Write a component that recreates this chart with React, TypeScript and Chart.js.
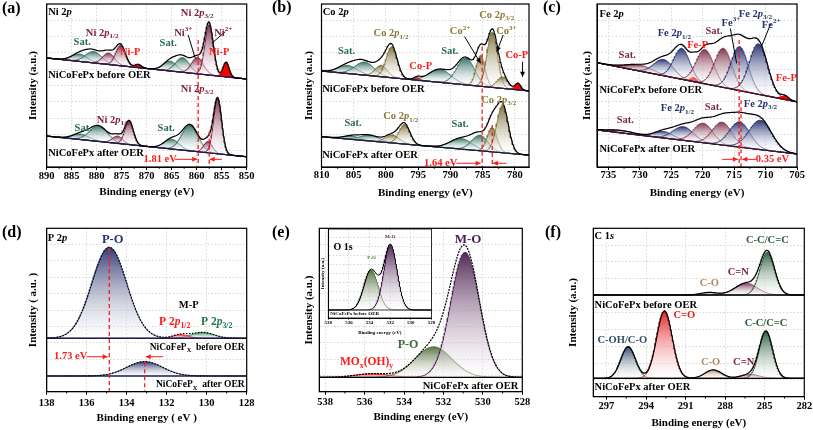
import React, { useEffect, useRef } from 'react';
import { Chart, registerables } from 'chart.js';

Chart.register(...registerables);

const FONT = "'Liberation Serif', 'Times New Roman', serif";
Chart.defaults.font.family = FONT;

type Peak = [number, number, number, string]; // centre (eV), height above background, FWHM (eV), component key
type Label = [string, number, number, string, string?, number?];
type Arrow = [number, number, number, number, string, number];
type Dash = [number, number, number];

const RED = '#ff1a1a';
const GRID_Y = [0, 10, 20, 30, 40, 50, 60, 70, 80, 90, 100];

// ---------------- (a) Ni 2p ----------------
const niTicks = [850, 855, 860, 865, 870, 875, 880, 885, 890];
const niBeforeBase: [number, number] = [54.0, 66.9];
const niBeforePeaks: Peak[] = [
  [854.1, 9, 1.4, 'r'], [857.5, 31, 2.0, 'm'], [859.8, 10, 2.8, 'm'], [862.8, 9, 3.2, 's'], [865.3, 6, 3.2, 's'],
  [871.7, 2, 1.5, 'r'], [875.2, 12.5, 2.3, 'm'], [877.6, 7, 2.8, 'm'], [880.6, 7, 3.8, 's'], [883.4, 4.5, 3.8, 's'],
];
const niAfterBase: [number, number] = [6.3, 19.0];
const niAfterPeaks: Peak[] = [
  [855.8, 34, 1.9, 'm'], [857.7, 7, 2.0, 'm'], [861.3, 16, 3.8, 's'], [865.0, 6, 3.5, 's'],
  [873.5, 14.5, 2.0, 'm'], [875.8, 4.5, 2.4, 'm'], [879.6, 9.5, 4.2, 's'], [883.2, 3.4, 3.8, 's'],
];
const NI_M = '#7b1f40';
const TEAL = '#2b6a5c';
const niLabels: Label[] = [
  ['Ni 2~p~', 889.7, 95.1, '#000', 'left'],
  ['Sat.', 882.9, 76.7, TEAL], ['Ni 2~p~_{1/2}', 878.9, 82.2, NI_M], ['Ni-P', 873.3, 70.6, RED],
  ['Sat.', 865.7, 76.1, TEAL], ['Ni^{3+}', 862.7, 82.2, NI_M], ['Ni 2~p~_{3/2}', 859.9, 94.5, NI_M],
  ['Ni^{2+}', 854.7, 82.2, NI_M], ['Ni-P', 855.5, 70.6, RED],
  ['NiCoFePx before OER', 889.7, 56.4, '#000', 'left'],
  ['Sat.', 882.7, 23.9, TEAL], ['Ni 2~p~_{1/2}', 876.7, 28.8, NI_M], ['Sat.', 866.1, 23.9, TEAL],
  ['Ni 2~p~_{3/2}', 859.9, 47.9, NI_M],
  ['NiCoFePx after OER', 889.7, 8.6, '#000', 'left'],
  ['1.81 eV', 867.3, 4.7, RED],
];
const niArrows: Arrow[] = [
  [864.3, 4.7, 859.9, 4.7, RED, 1], [855.0, 4.7, 857.4, 4.7, RED, 1],
  [861.7, 81, 860.3, 66.7, '#000', 0], [854.3, 83, 857.0, 75.9, '#000', 0],
];
const niDashes: Dash[] = [[859.7, 77.9, 0], [857.5, 21.7, 0]];

// ---------------- (b) Co 2p ----------------
const coTicks = [780, 785, 790, 795, 800, 805, 810];
const coBeforeBase: [number, number] = [46.7, 58.9];
const coBeforePeaks: Peak[] = [
  [779.5, 4, 1.0, 'r'], [781.9, 7, 2.0, 'o'], [783.5, 34, 1.9, 'o'], [785.3, 19, 1.6, 'o'],
  [787.6, 16.5, 3.2, 's'], [791.6, 8, 4.0, 's'], [795.1, 1.5, 1.2, 'r'], [799.1, 19, 2.0, 'o'],
  [800.7, 7, 2.2, 'o'], [803.3, 8, 3.5, 's'], [805.9, 5, 3.5, 's'],
];
const coAfterBase: [number, number] = [7.3, 18.6];
const coAfterPeaks: Peak[] = [
  [781.9, 29, 2.1, 'o'], [783.5, 15, 1.8, 'o'], [785.4, 9.5, 3.0, 's'], [788.3, 6.5, 4.0, 's'],
  [797.1, 12, 2.0, 'o'], [799.0, 5, 2.5, 'o'], [802.5, 3.5, 3.5, 's'], [805.3, 2, 3.0, 's'],
];
const OLIVE = '#8a7a3a';
const coLabels: Label[] = [
  ['Co 2~p~', 809.8, 94.7, '#000', 'left'],
  ['Sat.', 806.1, 70.7, TEAL], ['Co 2~p~_{1/2}', 799.2, 82, OLIVE], ['Co-P', 794.6, 61.5, RED],
  ['Sat.', 790.1, 70.7, TEAL], ['Co^{2+}', 788.5, 83, OLIVE], ['Co 2~p~_{3/2}', 782.8, 93.3, OLIVE],
  ['Co^{3+}', 781.3, 83, OLIVE], ['Co-P', 779.7, 68.7, RED],
  ['NiCoFePx before OER', 809.9, 47.7, '#000', 'left'],
  ['Sat.', 805.1, 26.8, TEAL], ['Co 2~p~_{1/2}', 797.7, 30.9, OLIVE], ['Sat.', 788.5, 26.4, TEAL],
  ['Co 2~p~_{3/2}', 782.5, 41.1, OLIVE],
  ['NiCoFePx after OER', 809.9, 6.9, '#000', 'left'],
  ['1.64 eV', 791.5, 2.3, RED],
];
const coArrows: Arrow[] = [
  [789.05, 2.3, 785.3, 2.3, RED, 1], [781.3, 2.3, 783.4, 2.3, RED, 1],
  [787.8, 80, 785.3, 63.6, '#000', 1], [781.8, 81, 782.8, 70.7, '#000', 1],
  [778.8, 64.6, 778.8, 55.4, '#000', 1],
];
const coDashes: Dash[] = [[785.07, 73.8, 0], [783.5, 25.8, 0]];

// ---------------- (c) Fe 2p ----------------
const feTicks = [705, 710, 715, 720, 725, 730, 735];
const feBeforeBase: [number, number] = [40, 64];
const feBeforePeaks: Peak[] = [
  [706.9, 2.2, 1.4, 'r'], [711.1, 31, 3.4, 'n'], [714.1, 27, 3.2, 'n'], [716.7, 24, 3.2, 'w'],
  [719.6, 21, 3.3, 'w'], [721.4, 2.6, 1.2, 'r'], [723.3, 19, 3.0, 'n'], [726.2, 10, 3.6, 'n'],
  [730.0, 3.7, 5.0, 'w'],
];
const feAfterBase: [number, number] = [8, 22.7];
const feAfterPeaks: Peak[] = [
  [710.8, 18, 4.2, 'n'], [714.1, 15.5, 3.8, 'n'], [716.9, 14, 3.6, 'w'], [719.9, 12, 3.6, 'w'],
  [723.05, 8.4, 3.8, 'n'], [726.2, 4, 3.5, 'n'], [733.0, 1.5, 5, 'w'],
];
const FE_N = '#27326e';
const FE_W = '#7a2b47';
const feLabels: Label[] = [
  ['Fe 2~p~', 736.4, 93.9, '#000', 'left'],
  ['Fe 2~p~_{1/2}', 724.5, 82, FE_N], ['Fe-P', 720.8, 74.8, RED], ['Sat.', 732, 68.7, FE_W],
  ['Sat.', 718.2, 83, FE_W], ['Fe^{3+}', 715.5, 88.1, FE_N], ['Fe 2~p~_{3/2}', 711.6, 93.9, FE_N],
  ['Fe^{2+}', 709.1, 87.1, FE_N], ['Fe-P', 706.7, 54.4, RED],
  ['NiCoFePx before OER', 736.4, 46.8, '#000', 'left'],
  ['Sat.', 732.3, 28.8, FE_W], ['Fe 2~p~_{1/2}', 724, 36, FE_N], ['Sat.', 718.3, 36.6, FE_W],
  ['Fe 2~p~_{3/2}', 710.8, 38.7, FE_N],
  ['NiCoFePx after OER', 736.4, 11, '#000', 'left'],
  ['0.35 eV', 708.9, 4.7, RED],
];
const feArrows: Arrow[] = [
  [716.9, 4.7, 714.4, 4.7, RED, 1], [711.4, 4.7, 713.7, 4.7, RED, 1],
  [715.6, 85, 714.6, 63.6, '#000', 0], [709.2, 87.7, 710.6, 74.4, '#000', 0],
];
const feDashes: Dash[] = [[714.2, 77.9, 0], [713.9, 41, 0]];

// ---------------- (d) P 2p ----------------
const pTicks = [128, 130, 132, 134, 136, 138];
const pBeforeBase: [number, number] = [32.7, 32.7];
const pBeforePeaks: Peak[] = [[134.87, 55.7, 2.05, 'n'], [131.3, 2.2, 0.9, 'r'], [130.2, 3.6, 1.3, 'g']];
const pAfterBase: [number, number] = [9.6, 9.6];
const pAfterPeaks: Peak[] = [[133.1, 8.8, 2.1, 'n']];
const pLabels: Label[] = [
  ['P 2~p~', 137.95, 93.9, '#000', 'left'],
  ['P-O', 134.7, 92.8, '#28306c', 'center', 12.5],
  ['M-P', 130.9, 53, '#000'],
  ['P 2~p~_{1/2}', 131.6, 42.7, RED, 'center', 11.5],
  ['P 2~p~_{3/2}', 129.5, 42.7, '#1d7a4c', 'center', 11.5],
  ['NiCoFeP_{X}  before OER', 128.1, 26.9, '#000', 'right', 9.5],
  ['NiCoFeP_{X}  after OER', 128.1, 4.1, '#000', 'right', 9.5],
  ['1.73 eV', 136.8, 21.4, RED],
];
const pArrows: Arrow[] = [[136.0, 21.4, 134.95, 21.4, RED, 1], [132.17, 21.4, 133.05, 21.4, RED, 1]];
const pDashes: Dash[] = [[134.87, 88, 0], [133.1, 18, 0]];

// ---------------- (e) O 1s ----------------
const oTicks = [528, 530, 532, 534, 536, 538];
const oAfterBase: [number, number] = [8.8, 8.8];
const oAfterPeaks: Peak[] = [[530.9, 76.5, 1.7, 'p'], [532.5, 18.7, 2.2, 'g'], [535.6, 2.2, 2.0, 'r']];
const oLabels: Label[] = [
  ['M-O', 530.75, 92.8, '#4a1d4e', 'center', 13],
  ['P-O', 533.8, 28.6, '#3f6a3a', 'center', 12],
  ['MO_{x}(OH)_{y}', 535.9, 18.2, RED, 'center', 11.5],
  ['NiCoFePx after OER', 528.2, 3.1, '#000', 'right'],
];
// inset (before OER)
const oInsetTicks = [528, 530, 532, 534, 536, 538];
const oBeforeBase: [number, number] = [9, 9];
const oBeforePeaks: Peak[] = [[531.97, 73, 1.5, 'p'], [533.86, 45, 1.6, 'g']];
const oInsetLabels: Label[] = [
  ['O 1s', 537.5, 79.8, '#000', 'left', 10],
  ['M-O', 532, 91.3, '#4a1d4e', 'center', 5],
  ['P-O', 533.8, 67.4, '#3f7a3a', 'center', 5],
  ['NiCoFePx before OER', 537.8, 4.5, '#000', 'left', 5],
];

// ---------------- (f) C 1s ----------------
const cTicks = [282, 285, 288, 291, 294, 297];
const cBeforeBase: [number, number] = [60.4, 60.4];
const cBeforePeaks: Peak[] = [[284.8, 25.3, 1.3, 'g'], [286.4, 7, 2.0, 'm'], [289.2, 1.5, 1.5, 't']];
const cAfterBase: [number, number] = [10.9, 10.9];
const cAfterPeaks: Peak[] = [
  [284.9, 27.7, 1.2, 'g'], [286.1, 2.4, 1.6, 'm'], [288.9, 5, 1.5, 't'], [292.6, 40, 1.4, 'r'], [295.35, 18.8, 1.3, 'b'],
];
const C_G = '#2a5c3a';
const C_M = '#7a2348';
const C_T = '#b08868';
const cLabels: Label[] = [
  ['C 1~s~', 297.9, 95, '#000', 'left'],
  ['C-C/C=C', 284.8, 93, C_G], ['C=N', 287, 74, C_M], ['C-O', 289.2, 67.5, C_T],
  ['NiCoFePx before OER', 297.9, 54.5, '#000', 'left'],
  ['C=O', 291.1, 48.5, '#e3191c'], ['C-OH/C-O', 295.8, 33.7, '#2c4f62'], ['C-O', 289.1, 20.6, C_T],
  ['C=N', 286.6, 20.6, C_M], ['C-C/C=C', 284.9, 43.8, C_G],
  ['NiCoFePx after OER', 297.9, 5.3, '#000', 'left'],
];

// ---------------- helpers ----------------
function gauss(x: number, c: number, h: number, w: number) {
  const s = w / 2.3548;
  return h * Math.exp(-((x - c) * (x - c)) / (2 * s * s));
}
function rgba(hex: string, a: number) {
  const n = parseInt(hex.slice(1), 16);
  return `rgba(${(n >> 16) & 255},${(n >> 8) & 255},${n & 255},${a})`;
}
function parseRich(s: string) {
  const out: { t: string; it: boolean; m: number }[] = [];
  let it = false, buf = '', i = 0;
  const flush = () => { if (buf) out.push({ t: buf, it, m: 0 }); buf = ''; };
  while (i < s.length) {
    const ch = s[i];
    if (ch === '~') { flush(); it = !it; i++; continue; }
    if ((ch === '_' || ch === '^') && s[i + 1] === '{') {
      flush();
      const j = s.indexOf('}', i);
      out.push({ t: s.slice(i + 2, j), it: false, m: ch === '_' ? 1 : 2 });
      i = j + 1; continue;
    }
    buf += ch; i++;
  }
  flush();
  return out;
}
function drawRich(ctx: CanvasRenderingContext2D, s: string, x: number, y: number, size: number, color: string, align: string) {
  const segs = parseRich(s);
  const f = (g: any) => `${g.it ? 'italic ' : ''}bold ${g.m ? size * 0.68 : size}px ${FONT}`;
  let w = 0;
  segs.forEach(g => { ctx.font = f(g); w += ctx.measureText(g.t).width; });
  let cx = align === 'left' ? x : align === 'right' ? x - w : x - w / 2;
  ctx.fillStyle = color; ctx.textBaseline = 'middle'; ctx.textAlign = 'left';
  segs.forEach(g => {
    ctx.font = f(g);
    const dy = g.m === 1 ? size * 0.32 : g.m === 2 ? -size * 0.38 : 0;
    ctx.fillText(g.t, cx, y + dy);
    cx += ctx.measureText(g.t).width;
  });
}
function drawArrow(ctx: CanvasRenderingContext2D, x1: number, y1: number, x2: number, y2: number, col: string, head: number) {
  ctx.strokeStyle = col; ctx.fillStyle = col; ctx.lineWidth = 1; ctx.setLineDash([]);
  ctx.beginPath(); ctx.moveTo(x1, y1); ctx.lineTo(x2, y2); ctx.stroke();
  if (head) {
    const a = Math.atan2(y2 - y1, x2 - x1), L = 5, W = 2.5;
    ctx.beginPath(); ctx.moveTo(x2, y2);
    ctx.lineTo(x2 - L * Math.cos(a) + W * Math.sin(a), y2 - L * Math.sin(a) - W * Math.cos(a));
    ctx.lineTo(x2 - L * Math.cos(a) - W * Math.sin(a), y2 - L * Math.sin(a) + W * Math.cos(a));
    ctx.closePath(); ctx.fill();
  }
}

type Spectrum = { base: [number, number]; peaks: Peak[] };
type PanelCfg = {
  id: string;
  canvas: { l: number; t: number; w: number; h: number };
  plot: { l: number; t: number; r: number; b: number };
  xMin: number; xMax: number; ticks: number[]; minor: number; step: number;
  spectra: Spectrum[];
  colors: Record<string, string>; solid: string[]; baseColor: string; envDash?: number[];
  labels: Label[]; arrows: Arrow[]; dashes: Dash[];
  letter?: string; letterPos?: [number, number];
  yTitle: string; xTitle: string; yTitleCx: number; xTitleCy: number;
  tickPad: number; tickSize: number; titleSize: number; labelSize: number; tickLen: number; bg?: boolean;
};

function buildDatasets(p: PanelCfg) {
  const xs: number[] = [];
  const n = Math.round((p.xMax - p.xMin) / p.step);
  for (let i = 0; i <= n; i++) xs.push(p.xMin + (p.xMax - p.xMin) * i / n);
  const top: any[] = [];
  const peaks: any[] = [];
  p.spectra.forEach((sp, si) => {
    const bl = (x: number) => sp.base[0] + (sp.base[1] - sp.base[0]) * (x - p.xMin) / (p.xMax - p.xMin);
    top.push({
      data: xs.map(x => ({ x, y: bl(x) + sp.peaks.reduce((a, pk) => a + gauss(x, pk[0], pk[1], pk[2]), 0) })),
      borderColor: '#000', borderWidth: p.tickSize < 8 ? 0.8 : 1.2, borderDash: p.envDash || [], fill: false,
    });
    top.push({
      data: xs.map(x => ({ x, y: bl(x) })),
      borderColor: p.baseColor, borderWidth: p.tickSize < 8 ? 0.8 : 1.3, fill: false,
    });
    const baseIdx = si * 2 + 1;
    sp.peaks.forEach(pk => {
      const col = p.colors[pk[3]];
      const solid = p.solid.includes(pk[3]);
      const topVal = bl(pk[0]) + pk[1];
      const baseVal = bl(pk[0]);
      peaks.push({
        data: xs.map(x => ({ x, y: bl(x) + gauss(x, pk[0], pk[1], pk[2]) })),
        borderColor: col, borderWidth: 0.8, fill: baseIdx,
        backgroundColor: (c: any) => {
          const ch = c.chart;
          if (!ch.chartArea || solid) return col;
          const y0 = ch.scales.y.getPixelForValue(topVal);
          const y1 = ch.scales.y.getPixelForValue(baseVal);
          const g = ch.ctx.createLinearGradient(0, y0, 0, y1 + 0.01);
          g.addColorStop(0, rgba(col, 0.95));
          g.addColorStop(1, 'rgba(255,255,255,0.3)');
          return g;
        },
      });
    });
  });
  // envelope and background datasets first so they are painted on top
  return top.concat(peaks);
}

function annotPlugin(p: PanelCfg) {
  return {
    id: 'annot_' + p.id,
    beforeDraw(chart: any) {
      if (!p.bg) return;
      const { ctx, chartArea: ca } = chart;
      ctx.save(); ctx.fillStyle = '#fff';
      ctx.fillRect(ca.left, ca.top, ca.right - ca.left, ca.bottom - ca.top);
      ctx.restore();
    },
    afterDatasetsDraw(chart: any) {
      const { ctx, chartArea: ca, scales } = chart;
      const X = (v: number) => scales.x.getPixelForValue(v);
      const Y = (v: number) => scales.y.getPixelForValue(v);
      ctx.save();
      ctx.beginPath(); ctx.rect(ca.left, ca.top, ca.right - ca.left, ca.bottom - ca.top); ctx.clip();
      p.dashes.forEach(([xv, y1, y2]) => {
        ctx.strokeStyle = RED; ctx.lineWidth = 1.3; ctx.setLineDash([4, 3]);
        ctx.beginPath(); ctx.moveTo(X(xv), Y(y1)); ctx.lineTo(X(xv), Y(y2)); ctx.stroke();
      });
      ctx.setLineDash([]);
      p.arrows.forEach(([x1, y1, x2, y2, col, head]) => drawArrow(ctx, X(x1), Y(y1), X(x2), Y(y2), col, head));
      p.labels.forEach(([t, xv, yv, col, align, size]) =>
        drawRich(ctx, t, X(xv), Y(yv), size ?? p.labelSize, col, align ?? 'center'));
      ctx.restore();
    },
    afterDraw(chart: any) {
      const { ctx, chartArea: ca, scales } = chart;
      ctx.save();
      ctx.setLineDash([]);
      ctx.strokeStyle = '#000'; ctx.lineWidth = p.tickSize < 8 ? 0.8 : 1.2;
      ctx.strokeRect(ca.left, ca.top, ca.right - ca.left, ca.bottom - ca.top);
      ctx.lineWidth = p.tickSize < 8 ? 0.5 : 1;
      const start = Math.ceil(p.xMin / p.minor) * p.minor;
      for (let v = start; v <= p.xMax + 1e-9; v += p.minor) {
        if (p.ticks.some(t => Math.abs(t - v) < 1e-6)) continue;
        const px = scales.x.getPixelForValue(v);
        ctx.beginPath(); ctx.moveTo(px, ca.bottom); ctx.lineTo(px, ca.bottom + p.tickLen * 0.6); ctx.stroke();
      }
      if (p.letter && p.letterPos) {
        drawRich(ctx, p.letter, p.letterPos[0] - p.canvas.l, p.letterPos[1] - p.canvas.t, 16, '#000', 'left');
      }
      ctx.restore();
    },
  };
}

function makeConfig(p: PanelCfg): any {
  const c = p.canvas, a = p.plot;
  return {
    type: 'line',
    data: { datasets: buildDatasets(p) },
    options: {
      animation: false, responsive: false, devicePixelRatio: 1,
      parsing: false, normalized: true, events: [],
      layout: { padding: { left: 0, top: a.t - c.t, right: c.l + c.w - a.r, bottom: 0 } },
      plugins: { legend: { display: false }, tooltip: { enabled: false }, filler: { propagate: false } },
      elements: { point: { radius: 0 }, line: { tension: 0 } },
      scales: {
        x: {
          type: 'linear', reverse: true, min: p.xMin, max: p.xMax,
          afterBuildTicks: (s: any) => { s.ticks = p.ticks.map(v => ({ value: v })); },
          afterFit: (s: any) => { s.height = c.t + c.h - a.b; },
          ticks: { font: { size: p.tickSize, weight: 'bold', lineHeight: 1 }, color: '#000', padding: p.tickPad, maxRotation: 0, autoSkip: false },
          grid: { color: '#cdcdcd', lineWidth: 0.8, tickColor: '#000', tickLength: p.tickLen, tickWidth: p.tickSize < 8 ? 0.5 : 1 },
          border: { display: true, color: '#000', width: 1, dash: [1.5, 2] },
          title: {
            display: true, text: p.xTitle, color: '#000',
            font: { size: p.titleSize, weight: 'bold', lineHeight: 1.2 },
            padding: { top: 0, bottom: c.t + c.h - p.xTitleCy - p.titleSize * 0.6 },
          },
        },
        y: {
          type: 'linear', min: 0, max: 100,
          afterBuildTicks: (s: any) => { s.ticks = GRID_Y.map(v => ({ value: v })); },
          afterFit: (s: any) => { s.width = a.l - c.l; },
          ticks: { display: false },
          grid: { color: '#cdcdcd', lineWidth: 0.8, drawTicks: false },
          border: { display: true, color: '#000', width: 1, dash: [1.5, 2] },
          title: {
            display: true, text: p.yTitle, color: '#000',
            font: { size: p.titleSize, weight: 'bold', lineHeight: 1.2 },
            padding: { top: p.yTitleCx - c.l - p.titleSize * 0.6, bottom: 0 },
          },
        },
      },
    },
    plugins: [annotPlugin(p)],
  };
}

const common = { tickSize: 10.5, titleSize: 11, labelSize: 10.5, tickLen: 3 };

const panels: PanelCfg[] = [
  {
    ...common, id: 'a', canvas: { l: 0, t: 0, w: 268, h: 215 }, plot: { l: 46.7, t: 4, r: 246.7, b: 167 },
    xMin: 850, xMax: 890, ticks: niTicks, minor: 2.5, step: 0.1,
    spectra: [{ base: niBeforeBase, peaks: niBeforePeaks }, { base: niAfterBase, peaks: niAfterPeaks }],
    colors: { m: '#7b2346', s: '#2e6b5e', r: '#ff0000' }, solid: ['r'], baseColor: '#1b1f50',
    labels: niLabels, arrows: niArrows, dashes: niDashes, letter: '(a)', letterPos: [2, 9],
    yTitle: 'Intensity (a.u.)', xTitle: 'Binding energy (eV)', yTitleCx: 33, xTitleCy: 192, tickPad: 1.5,
  },
  {
    ...common, id: 'b', canvas: { l: 268, t: 0, w: 270, h: 215 }, plot: { l: 321.5, t: 4, r: 529, b: 167 },
    xMin: 777.8, xMax: 810, ticks: coTicks, minor: 2.5, step: 0.1,
    spectra: [{ base: coBeforeBase, peaks: coBeforePeaks }, { base: coAfterBase, peaks: coAfterPeaks }],
    colors: { o: '#7a6c35', s: '#2e6b5e', r: '#ff0000' }, solid: ['r'], baseColor: '#1b1f50',
    labels: coLabels, arrows: coArrows, dashes: coDashes, letter: '(b)', letterPos: [272, 8],
    yTitle: 'Intensity (a.u.)', xTitle: 'Binding energy (eV)', yTitleCx: 309.3, xTitleCy: 193, tickPad: 0,
  },
  {
    ...common, id: 'c', canvas: { l: 538, t: 0, w: 275, h: 215 }, plot: { l: 597, t: 4, r: 797, b: 167 },
    xMin: 705, xMax: 736.8, ticks: feTicks, minor: 2.5, step: 0.1,
    spectra: [{ base: feBeforeBase, peaks: feBeforePeaks }, { base: feAfterBase, peaks: feAfterPeaks }],
    colors: { n: '#1f2c6e', w: '#7c2d47', r: '#ff0000' }, solid: ['r'], baseColor: '#3a1a2a',
    labels: feLabels, arrows: feArrows, dashes: feDashes, letter: '(c)', letterPos: [543, 8],
    yTitle: 'Intensity (a.u.)', xTitle: 'Binding energy (eV)', yTitleCx: 586.7, xTitleCy: 192.7, tickPad: 0,
  },
  {
    ...common, id: 'd', canvas: { l: 0, t: 215, w: 268, h: 215 }, plot: { l: 46.7, t: 228.3, r: 246.7, b: 391.7 },
    xMin: 128, xMax: 138, ticks: pTicks, minor: 1, step: 0.02,
    spectra: [{ base: pBeforeBase, peaks: pBeforePeaks }, { base: pAfterBase, peaks: pAfterPeaks }],
    colors: { n: '#28306c', g: '#1d7a4c', r: '#ff0000' }, solid: [], baseColor: '#1b1f50', envDash: [1.5, 1.5],
    labels: pLabels, arrows: pArrows, dashes: pDashes, letter: '(d)', letterPos: [2, 233],
    yTitle: 'Intensity ( a.u. )', xTitle: 'Binding energy ( eV )', yTitleCx: 33.3, xTitleCy: 417.7, tickPad: 3.3,
  },
  {
    ...common, id: 'e', canvas: { l: 268, t: 215, w: 270, h: 215 }, plot: { l: 319.3, t: 228.3, r: 522.3, b: 391.7 },
    xMin: 528, xMax: 538.3, ticks: oTicks, minor: 1, step: 0.02,
    spectra: [{ base: oAfterBase, peaks: oAfterPeaks }],
    colors: { p: '#4a1d4e', g: '#4f6b38', r: '#ff0000' }, solid: [], baseColor: '#000', envDash: [2, 1],
    labels: oLabels, arrows: [], dashes: [], letter: '(e)', letterPos: [272, 233],
    yTitle: 'Intensity (a.u.)', xTitle: 'Binding energy (eV)', yTitleCx: 309.3, xTitleCy: 416.7, tickPad: 2.3,
  },
  {
    ...common, id: 'f', canvas: { l: 538, t: 215, w: 275, h: 215 }, plot: { l: 593.3, t: 228.3, r: 804.3, b: 396.7 },
    xMin: 282, xMax: 298, ticks: cTicks, minor: 1.5, step: 0.04,
    spectra: [{ base: cBeforeBase, peaks: cBeforePeaks }, { base: cAfterBase, peaks: cAfterPeaks }],
    colors: { g: '#2a5c3a', m: '#7a3358', t: '#b38d6c', r: '#e3191c', b: '#2c4766' }, solid: [], baseColor: '#000',
    labels: cLabels, arrows: [], dashes: [], letter: '(f)', letterPos: [545, 233],
    yTitle: 'Intensity (a.u.)', xTitle: 'Binding energy (eV)', yTitleCx: 573.3, xTitleCy: 423, tickPad: 1.7,
  },
];

const inset: PanelCfg = {
  id: 'inset', canvas: { l: 312, t: 226, w: 124, h: 112 }, plot: { l: 328.3, t: 229, r: 431.5, b: 318 },
  xMin: 528, xMax: 538, ticks: oInsetTicks, minor: 1, step: 0.02,
  spectra: [{ base: oBeforeBase, peaks: oBeforePeaks }],
  colors: { p: '#4a1d4e', g: '#4f6b38' }, solid: [], baseColor: '#000',
  labels: oInsetLabels, arrows: [], dashes: [],
  yTitle: 'Intensity (a.u.)', xTitle: 'Binding energy (eV)', yTitleCx: 322.7, xTitleCy: 333,
  tickPad: 0, tickSize: 5, titleSize: 5, labelSize: 5, tickLen: 2, bg: true,
};

function PanelChart({ p }: { p: PanelCfg }) {
  const ref = useRef<HTMLCanvasElement>(null);
  useEffect(() => {
    const chart = new Chart(ref.current as HTMLCanvasElement, makeConfig(p));
    return () => chart.destroy();
  }, []);
  return (
    <canvas
      ref={ref}
      width={p.canvas.w}
      height={p.canvas.h}
      style={{ position: 'absolute', left: p.canvas.l, top: p.canvas.t, width: p.canvas.w, height: p.canvas.h }}
    />
  );
}

export default function App() {
  return (
    <div style={{ position: 'absolute', left: 0, top: 0, width: 813, height: 430, background: '#fff', overflow: 'hidden' }}>
      {panels.map(p => <PanelChart key={p.id} p={p} />)}
      <PanelChart p={inset} />
    </div>
  );
}
